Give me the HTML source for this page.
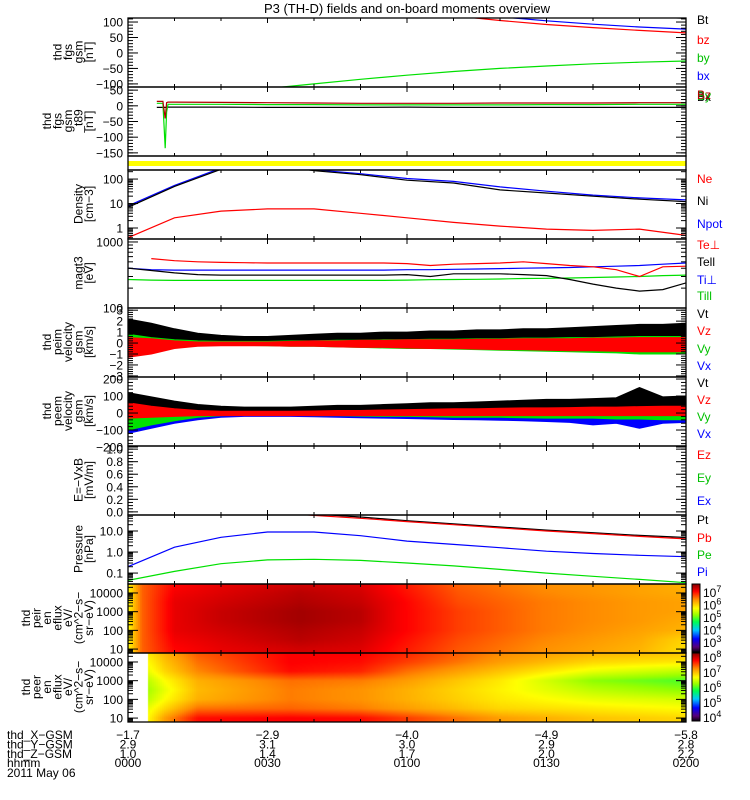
<!DOCTYPE html>
<html><head><meta charset="utf-8">
<style>
html,body{margin:0;padding:0;background:#fff;}
#wrap{position:relative;width:750px;height:800px;overflow:hidden;font-family:"Liberation Sans",sans-serif;}
canvas,svg{position:absolute;left:0;top:0;}
</style></head>
<body>
<div id="wrap">
<canvas id="cv" width="750" height="800"></canvas>
<svg id="sv" width="750" height="800" xmlns="http://www.w3.org/2000/svg"></svg>
</div>
<script>
// ---------- data ----------
const t10 = [0,10,20,30,40,50,60,70,80,90,100,110,120];
const t5 = [0,5,10,15,20,25,30,35,40,45,50,55,60,65,70,75,80,85,90,95,100,105,110,115,120];
// fgs gsm (nT)
const fgsBt = [320,290,265,240,215,195,175,160,145,133,125,118,112];
const fgsBz = [250,230,210,190,170,150,135,120,105,92,82,73,65];
const fgsBy = [-170,-150,-130,-115,-100,-85,-72,-60,-50,-42,-35,-30,-26];
const fgsBx = [260,240,220,200,180,160,145,130,117,104,93,84,77];
// fgs gsm - t89
const t89Times = [6.2,7.5,8.0,8.3,8.6,9.0,10,20,30,40,50,60,70,80,90,100,110,120];
const t89Bz = [14,14,-40,10,12,12,12,11,10,9,8,8,8,9,9,9,10,10];
const t89By = [8,8,-135,-20,5,5,5,5,4,4,3,3,3,3,4,4,5,5];
const t89Bx = [-5,-5,-5,-4,-4,-4,-4,-4,-5,-5,-5,-4,-5,-5,-5,-5,-5,-5];
// density
const densNi = [7,50,250,420,220,150,90,69,36,27,20,15,12];
const densNpot = [8,55,280,460,240,165,105,80,48,32,22,17,14];
const densNe = [0.4,2.6,4.9,6,6,4,2.6,1.7,1.2,0.9,0.8,0.9,0.5];
// temperatures (eV)
const tempTePerp = [null,560,520,500,490,485,480,480,480,480,480,480,470,440,460,470,480,500,470,440,420,380,300,420,430];
const tempTePar = [400,370,340,320,315,315,315,315,315,315,315,315,320,300,330,330,330,320,310,270,230,200,180,190,240];
const tempTiPerp = [400,380,375,375,375,375,375,375,375,375,375,375,380,380,385,390,395,400,405,410,420,430,440,460,480];
const tempTiPar = [270,265,262,262,262,262,262,262,262,262,262,262,265,268,270,272,275,280,282,285,290,295,300,310,315];
// peim velocity (envelopes)
const v1VtMax = [2.2,1.8,1.3,0.9,0.7,0.6,0.6,0.7,0.8,0.9,0.9,1.0,1.0,1.1,1.1,1.2,1.2,1.3,1.3,1.4,1.5,1.6,1.7,1.7,1.8];
const v1VtMin = [0,0.1,0.2,0.2,0.2,0.2,0.2,0.2,0.2,0.2,0.2,0.2,0.2,0.2,0.2,0.2,0.2,0.2,0.2,0.2,0.2,0.2,0.2,0.2,0.2];
const v1VxMax = [0.3,0.2,0.15,0.1,0.1,0.1,0.1,0.15,0.2,0.2,0.2,0.25,0.25,0.3,0.3,0.3,0.3,0.35,0.35,0.35,0.4,0.4,0.45,0.45,0.5];
const v1VxMin = [-0.3,-0.2,-0.15,-0.1,-0.1,-0.1,-0.1,-0.15,-0.2,-0.2,-0.2,-0.25,-0.25,-0.3,-0.3,-0.3,-0.3,-0.35,-0.35,-0.35,-0.4,-0.4,-0.4,-0.4,-0.4];
const v1VyMax = [0.8,0.5,0.3,0.2,0.15,0.15,0.15,0.2,0.2,0.25,0.25,0.3,0.3,0.35,0.35,0.4,0.4,0.45,0.45,0.5,0.5,0.55,0.6,0.6,0.6];
const v1VyMin = [-1.2,-0.6,-0.3,-0.2,-0.2,-0.2,-0.25,-0.3,-0.3,-0.35,-0.4,-0.45,-0.5,-0.5,-0.55,-0.6,-0.65,-0.7,-0.75,-0.8,-0.85,-0.9,-1.0,-1.0,-1.0];
const v1VzMax = [0.5,0.4,0.2,0.1,0.1,0.1,0.1,0.15,0.2,0.2,0.25,0.25,0.3,0.3,0.3,0.35,0.35,0.4,0.4,0.4,0.45,0.45,0.5,0.5,0.5];
const v1VzMin = [-1.3,-1.0,-0.5,-0.3,-0.25,-0.25,-0.25,-0.3,-0.3,-0.35,-0.4,-0.4,-0.45,-0.5,-0.5,-0.55,-0.6,-0.6,-0.65,-0.7,-0.7,-0.75,-0.8,-0.8,-0.8];
// peem velocity (envelopes)
const v2VtMax = [120,95,70,50,40,35,35,35,40,45,45,50,55,60,60,65,70,75,80,80,85,90,150,95,100];
const v2VtMin = [0,0,5,5,5,5,5,5,5,5,5,5,5,5,5,5,5,5,5,5,5,5,5,5,5];
const v2VxMax = [0,0,-5,-5,-5,-5,-5,-5,-5,-5,-5,-5,-5,-5,-5,-5,-5,-5,-5,-5,-5,-5,-5,-5,-5];
const v2VxMin = [-120,-90,-60,-40,-25,-20,-20,-20,-22,-25,-28,-30,-32,-35,-38,-40,-42,-45,-50,-55,-70,-60,-90,-60,-55];
const v2VyMax = [20,10,5,0,0,0,5,5,5,5,5,5,5,5,5,5,5,5,5,5,5,5,5,5,5];
const v2VyMin = [-100,-70,-45,-25,-15,-12,-12,-12,-15,-15,-18,-20,-20,-22,-25,-25,-25,-28,-30,-30,-30,-35,-35,-40,-40];
const v2VzMax = [60,40,25,15,10,10,10,10,12,15,15,18,20,22,25,25,28,30,30,32,35,35,38,40,40];
const v2VzMin = [-30,-25,-20,-15,-15,-15,-15,-15,-15,-15,-15,-15,-15,-15,-15,-15,-15,-15,-15,-15,-15,-15,-15,-15,-15];
// pressure (nPa)
const presPt = [400,320,300,180,64,46,31,22,15.5,11,8.3,6.2,4.9];
const presPb = [300,250,200,80,55,40,28,20,14,10,7.5,5.5,4.2];
const presPe = [0.045,0.12,0.28,0.42,0.45,0.4,0.3,0.22,0.15,0.1,0.07,0.05,0.035];
const presPi = [0.2,1.7,5,9,9,6,3.3,2.3,1.6,1.1,0.85,0.7,0.6];
// spectrograms: log10 energy rows, time columns, log10 eflux values
const specLogE = [1.0,1.5,2.0,2.5,3.0,3.5,4.0,4.4];
const ionTimes = [0,3,10,20,37,50,58,71,89,110,120];
const ionFlux = [
 [5.75,5.75,5.75,5.75,5.75,5.75,5.75,5.75],
 [6.64,6.64,6.64,6.64,6.64,6.64,6.64,6.64],
 [7.08,7.14,7.2,7.2,7.2,7.2,7.14,7.08],
 [7.2,7.25,7.31,7.36,7.36,7.31,7.25,7.2],
 [7.31,7.42,7.47,7.53,7.53,7.47,7.42,7.31],
 [7.25,7.31,7.36,7.42,7.42,7.36,7.31,7.25],
 [7.03,7.08,7.14,7.14,7.14,7.14,7.08,7.03],
 [6.7,6.75,6.81,6.81,6.81,6.75,6.7,6.64],
 [6.42,6.47,6.53,6.53,6.53,6.53,6.47,6.42],
 [6.2,6.25,6.31,6.36,6.36,6.36,6.31,6.31],
 [5.93,5.99,6.2,6.25,6.31,6.31,6.25,6.2]
];
const eleTimes = [4.3,8,15,35,50,60,80,100,120];
const eleFlux = [
 [6.7,6.6,6.4,6.3,6.4,6.6,6.7,6.8],
 [7.2,6.9,6.7,6.6,6.7,6.9,7.0,7.1],
 [7.8,7.4,7.1,7.05,7.1,7.3,7.4,7.5],
 [7.85,7.45,7.35,7.35,7.4,7.8,7.85,7.85],
 [7.8,7.35,7.25,7.25,7.35,7.7,7.8,7.85],
 [7.6,7.2,7.1,7.1,7.2,7.4,7.6,7.7],
 [7.2,6.9,6.8,6.75,6.8,7.0,7.2,7.3],
 [7.0,6.8,6.6,6.4,6.2,6.6,6.9,7.1],
 [6.9,6.7,6.5,6.2,6.0,6.4,6.8,7.0]
];
// ephemeris / time axis labels
const hhmm = ['0000','0030','0100','0130','0200'];
const hhmmMin = [0,30,60,90,120];
const xGsm = ['\u22121.7','\u22122.9','\u22124.0','\u22124.9','\u22125.8'];
const yGsm = ['2.9','3.1','3.0','2.9','2.8'];
const zGsm = ['1.0','1.4','1.7','2.0','2.2'];

// ---------- layout ----------
const X0=128, X1=686;
function xs(t){return X0+(X1-X0)*t/120;}
const NS='http://www.w3.org/2000/svg';
const svg=document.getElementById('sv');
function mk(tag,parent){const e=document.createElementNS(NS,tag);parent.appendChild(e);return e;}
function ys(p,v){
  if(p.log){const a=Math.log10(p.min),b=Math.log10(p.max);return p.bot-(Math.log10(v)-a)/(b-a)*(p.bot-p.top);}
  return p.bot-(v-p.min)/(p.max-p.min)*(p.bot-p.top);
}
const panels={
 fgs:{top:18,bot:87,min:-110,max:113,maj:[-100,-50,0,50,100],lab:['\u2212100','\u221250','0','50','100'],minStep:10},
 t89:{top:87,bot:156,min:-160,max:60,maj:[-150,-100,-50,0,50],lab:['\u2212150','\u2212100','\u221250','0','50'],minStep:10},
 dens:{top:170,bot:239,min:Math.pow(10,-0.45),max:Math.pow(10,2.37),log:true,maj:[1,10,100],lab:['1','10','100']},
 temp:{top:239,bot:308,min:100,max:Math.pow(10,3.045),log:true,maj:[100,1000],lab:['100','1000']},
 v1:{top:308,bot:377,min:-3.1,max:3.2,maj:[-3,-2,-1,0,1,2,3],lab:['\u22123','\u22122','\u22121','0','1','2','3'],minStep:0.2},
 v2:{top:377,bot:446,min:-194,max:212,maj:[-200,-100,0,100,200],lab:['\u2212200','\u2212100','0','100','200'],minStep:20},
 ef:{top:446,bot:515,min:-0.05,max:1.05,maj:[0,0.2,0.4,0.6,0.8,1.0],lab:['0.0','0.2','0.4','0.6','0.8','1.0'],minStep:0.05},
 pres:{top:515,bot:584,min:Math.pow(10,-1.52),max:Math.pow(10,1.76),log:true,maj:[0.1,1,10],lab:['0.1','1.0','10.0']},
 ion:{top:584,bot:653,min:Math.pow(10,0.79),max:Math.pow(10,4.48),log:true,maj:[10,100,1000,10000],lab:['10','100','1000','10000']},
 ele:{top:653,bot:722,min:Math.pow(10,0.79),max:Math.pow(10,4.48),log:true,maj:[10,100,1000,10000],lab:['10','100','1000','10000']}
};

// ---------- spectrograms (canvas) ----------
const cv=document.getElementById('cv'); const ctx=cv.getContext('2d');
const cmStops=[[0,0,0,0],[0.08,90,0,120],[0.2,0,0,255],[0.33,0,200,255],[0.45,0,255,80],[0.55,150,255,0],[0.65,255,255,0],[0.78,255,140,0],[0.9,255,0,0],[1,140,0,0]];
function cmap(f){f=Math.max(0,Math.min(1,f));for(let i=1;i<cmStops.length;i++){const a=cmStops[i-1],b=cmStops[i];if(f<=b[0]){const u=(f-a[0])/(b[0]-a[0]);return 'rgb('+Math.round(a[1]+u*(b[1]-a[1]))+','+Math.round(a[2]+u*(b[2]-a[2]))+','+Math.round(a[3]+u*(b[3]-a[3]))+')';}}return 'rgb(140,0,0)';}
function interp(times,grid,t,le){
  if(t<times[0]) return null;
  let i=0; while(i<times.length-2 && t>times[i+1]) i++;
  const u=Math.max(0,Math.min(1,(t-times[i])/(times[i+1]-times[i])));
  let ej=(le-specLogE[0])/(specLogE[1]-specLogE[0]); ej=Math.max(0,Math.min(specLogE.length-1.001,ej));
  const j=Math.floor(ej), w=ej-j;
  const a=grid[i][j]*(1-w)+grid[i][j+1]*w, b=grid[i+1][j]*(1-w)+grid[i+1][j+1]*w;
  return a*(1-u)+b*u;
}
function drawSpec(p,times,grid,lo,hi){
  for(let x=X0;x<X1;x+=2){
    const t=(x+1-X0)/(X1-X0)*120;
    for(let y=p.top;y<p.bot;y++){
      const le=Math.log10(p.min)+(p.bot-y-0.5)/(p.bot-p.top)*(Math.log10(p.max)-Math.log10(p.min));
      const v=interp(times,grid,t,le); if(v===null) continue;
      ctx.fillStyle=cmap((v-lo)/(hi-lo)); ctx.fillRect(x,y,2,1);
    }
  }
}
drawSpec(panels.ion,ionTimes,ionFlux,2.2,7.64);
drawSpec(panels.ele,eleTimes,eleFlux,3.7,8.3);
// colorbars
for(let y=584;y<652;y++){ctx.fillStyle=cmap((652-y)/68);ctx.fillRect(692,y,8,1);}
for(let y=653;y<721;y++){ctx.fillStyle=cmap((721-y)/68);ctx.fillRect(692,y,8,1);}

// ---------- svg ----------
function txt(parent,x,y,s,opt){const e=mk('text',parent);e.setAttribute('x',x);e.setAttribute('y',y);e.setAttribute('font-size',(opt&&opt.size)||12);e.setAttribute('font-family','"Liberation Sans",sans-serif');e.setAttribute('fill',(opt&&opt.fill)||'#000');if(opt&&opt.anchor)e.setAttribute('text-anchor',opt.anchor);e.textContent=s;return e;}
function ln(parent,x1,y1,x2,y2,c,w){const e=mk('line',parent);e.setAttribute('x1',x1);e.setAttribute('y1',y1);e.setAttribute('x2',x2);e.setAttribute('y2',y2);e.setAttribute('stroke',c||'#000');e.setAttribute('stroke-width',w||1);return e;}

const title=txt(svg,407,13,'P3 (TH-D) fields and on-board moments overview',{size:13,anchor:'middle'});



const defs=mk('defs',svg);
function clipFor(key,p){const c=mk('clipPath',defs);c.setAttribute('id','clip-'+key);const r=mk('rect',c);r.setAttribute('x',X0);r.setAttribute('y',p.top);r.setAttribute('width',X1-X0);r.setAttribute('height',p.bot-p.top);return 'url(#clip-'+key+')';}

function series(key,times,vals,color,name,width){
  const p=panels[key];
  const g=mk('g',svg); g.setAttribute('clip-path',clipFor(key+'-'+name,p));
  let d='',pen=false;
  for(let i=0;i<times.length;i++){const v=vals[i];if(v===null||v===undefined){pen=false;continue;}d+=(pen?'L':'M')+xs(times[i]).toFixed(1)+','+ys(p,v).toFixed(1);pen=true;}
  const e=mk('path',g);e.setAttribute('d',d);e.setAttribute('fill','none');e.setAttribute('stroke',color);e.setAttribute('stroke-width',width||1.2);
  
  
}
function band(key,times,mx,mn,color,name){
  const p=panels[key];
  const g=mk('g',svg); g.setAttribute('clip-path',clipFor(key+'-'+name,p));
  let d='';
  for(let i=0;i<times.length;i++) d+=(i?'L':'M')+xs(times[i]).toFixed(1)+','+ys(p,mx[i]).toFixed(1);
  for(let i=times.length-1;i>=0;i--) d+='L'+xs(times[i]).toFixed(1)+','+ys(p,mn[i]).toFixed(1);
  d+='Z';
  const e=mk('path',g);e.setAttribute('d',d);e.setAttribute('fill',color);e.setAttribute('stroke',color);e.setAttribute('stroke-width',1);
  
  
}

// data series
series('fgs',t10,fgsBt,'#000','fgs-bt-line');
series('fgs',t10,fgsBy,'#00e000','fgs-by-line');
series('fgs',t10,fgsBx,'#0000ff','fgs-bx-line');
series('fgs',t10,fgsBz,'#ff0000','fgs-bz-line');
series('t89',t89Times,t89Bx,'#000','t89-bx-line');
series('t89',t89Times,t89By,'#00e000','t89-by-line');
series('t89',t89Times,t89Bz,'#b00000','t89-bz-line');
const yb=mk('rect',svg);yb.setAttribute('x',X0);yb.setAttribute('y',161);yb.setAttribute('width',X1-X0);yb.setAttribute('height',5);yb.setAttribute('fill','#ffff00');


series('dens',t10,densNpot,'#0000ff','density-npot-line');
series('dens',t10,densNi,'#000','density-ni-line');
series('dens',t10,densNe,'#ff0000','density-ne-line');
series('temp',t5,tempTiPar,'#00e000','temp-ti-par-line');
series('temp',t5,tempTiPerp,'#0000ff','temp-ti-perp-line');
series('temp',t5,tempTePar,'#000','temp-te-par-line');
series('temp',t5,tempTePerp,'#ff0000','temp-te-perp-line');
band('v1',t5,v1VtMax,v1VtMin,'#000','peim-vt-band');
band('v1',t5,v1VxMax,v1VxMin,'#0000ff','peim-vx-band');
band('v1',t5,v1VyMax,v1VyMin,'#00e000','peim-vy-band');
band('v1',t5,v1VzMax,v1VzMin,'#ff0000','peim-vz-band');
band('v2',t5,v2VtMax,v2VtMin,'#000','peem-vt-band');
band('v2',t5,v2VxMax,v2VxMin,'#0000ff','peem-vx-band');
band('v2',t5,v2VyMax,v2VyMin,'#00e000','peem-vy-band');
band('v2',t5,v2VzMax,v2VzMin,'#ff0000','peem-vz-band');
series('pres',t10,presPt,'#000','pressure-pt-line');
series('pres',t10,presPb,'#ff0000','pressure-pb-line');
series('pres',t10,presPe,'#00e000','pressure-pe-line');
series('pres',t10,presPi,'#0000ff','pressure-pi-line');

// frames and ticks
function frame(key,p,name){
  const g=mk('g',svg);
  
  
  const r=mk('rect',g);r.setAttribute('x',X0);r.setAttribute('y',p.top);r.setAttribute('width',X1-X0);r.setAttribute('height',p.bot-p.top);r.setAttribute('fill','none');r.setAttribute('stroke','#000');r.setAttribute('stroke-width',1.3);
  for(let t=10;t<120;t+=10){const L=(t%30===0)?5:3;ln(g,xs(t),p.top,xs(t),p.top+L);ln(g,xs(t),p.bot,xs(t),p.bot-L);}
  if(!p.maj) return;
  const minors=[];
  if(p.log){const a=Math.floor(Math.log10(p.min)),b=Math.ceil(Math.log10(p.max));for(let d=a;d<=b;d++)for(let k=2;k<=9;k++){const v=k*Math.pow(10,d);if(v>p.min&&v<p.max)minors.push(v);}}
  else{for(let v=Math.ceil(p.min/p.minStep)*p.minStep;v<=p.max;v+=p.minStep)minors.push(v);}
  minors.forEach(v=>{const y=ys(p,v);ln(g,X0,y,X0+5,y);ln(g,X1,y,X1-5,y);});
  p.maj.forEach((v,i)=>{const y=ys(p,v);ln(g,X0,y,X0+10,y);ln(g,X1,y,X1-10,y);
    const tl=txt(g,123,y+4.5,p.lab[i],{anchor:'end'});
    
    
  });
}
frame('fgs',panels.fgs,'fgs-panel');
frame('t89',panels.t89,'t89-panel');
const sb=mk('rect',svg);sb.setAttribute('x',X0);sb.setAttribute('y',156);sb.setAttribute('width',X1-X0);sb.setAttribute('height',14);sb.setAttribute('fill','none');sb.setAttribute('stroke','#000');sb.setAttribute('stroke-width',1.3);


frame('dens',panels.dens,'density-panel');
frame('temp',panels.temp,'temperature-panel');
frame('v1',panels.v1,'peim-velocity-panel');
frame('v2',panels.v2,'peem-velocity-panel');
frame('ef',panels.ef,'efield-panel');
frame('pres',panels.pres,'pressure-panel');
frame('ion',panels.ion,'ion-spectrogram-panel');
frame('ele',panels.ele,'electron-spectrogram-panel');

// y-axis titles
const ytitles=[
 [52,['thd','fgs','gsm','[nT]'],'fgs-y-title'],
 [121,['thd','fgs','gsm','_t89','[nT]'],'t89-y-title'],
 [204,['Density','[cm\u22123]'],'density-y-title'],
 [273,['magt3','[eV]'],'temperature-y-title'],
 [342,['thd','peim','velocity','gsm','[km/s]'],'peim-y-title'],
 [411,['thd','peem','velocity','gsm','[km/s]'],'peem-y-title'],
 [480,['E=\u2212VxB','[mV/m]'],'efield-y-title'],
 [549,['Pressure','[nPa]'],'pressure-y-title'],
 [618,['thd','peir','en','eflux','eV/','(cm^2\u2212s\u2212','sr\u2212eV)'],'ion-y-title'],
 [687,['thd','peer','en','eflux','eV/','(cm^2\u2212s\u2212','sr\u2212eV)'],'electron-y-title']
];
ytitles.forEach(([cy,lines,name])=>{
  const g=mk('g',svg);
  
  
  const n=lines.length, lh=10.5, right=93;
  lines.forEach((s,i)=>{const x=right-(n-1-i)*lh;const e=txt(g,0,0,s,{size:12,anchor:'middle'});e.setAttribute('transform','translate('+x+','+cy+') rotate(-90)');});
});

// legends
const legends=[
 [24,'Bt','#000'],[44,'bz','#ff0000'],[62,'by','#00c000'],[80,'bx','#0000ff'],
 [101,'Bx','#000'],[100,'By','#00c000'],[99,'Bz','#b00000'],
 [183,'Ne','#ff0000'],[205,'Ni','#000'],[228,'Npot','#0000ff'],
 [249,'Te\u22a5','#ff0000'],[266,'Tell','#000'],[284,'Ti\u22a5','#0000ff'],[300,'Till','#00c000'],
 [318,'Vt','#000'],[335,'Vz','#ff0000'],[353,'Vy','#00c000'],[370,'Vx','#0000ff'],
 [387,'Vt','#000'],[404,'Vz','#ff0000'],[421,'Vy','#00c000'],[438,'Vx','#0000ff'],
 [459,'Ez','#ff0000'],[482,'Ey','#00c000'],[505,'Ex','#0000ff'],
 [524,'Pt','#000'],[542,'Pb','#ff0000'],[559,'Pe','#00c000'],[576,'Pi','#0000ff']
];
legends.forEach(([y,s,c])=>{const e=txt(svg,697,y,s,{fill:c,size:12});
  
  
});

// colorbar frames and labels
[[584,652],[653,721]].forEach(([a,b])=>{const r=mk('rect',svg);r.setAttribute('x',692);r.setAttribute('y',a);r.setAttribute('width',8);r.setAttribute('height',b-a);r.setAttribute('fill','none');r.setAttribute('stroke','#000');
  
  
});
const cbIonExp=['7','6','5','4','3'];
const cbEleExp=['8','7','6','5','4'];
function cbLabels(exps,y0,dy,name){exps.forEach((ex,i)=>{const e=txt(svg,703,y0+i*dy+5,'10',{size:12});const s=mk('tspan',e);s.setAttribute('dy',-5);s.setAttribute('font-size',9);s.textContent=ex;
  
  
});}
cbLabels(cbIonExp,592,12.5,'ion-colorbar-label');
cbLabels(cbEleExp,657,15,'electron-colorbar-label');

// bottom ephemeris labels
const rowNames=['thd_X\u2212GSM','thd_Y\u2212GSM','thd_Z\u2212GSM','hhmm'];
const rowVals=[xGsm,yGsm,zGsm,hhmm];
rowNames.forEach((nm,r)=>{const y=739+r*9.4;
  const e=txt(svg,7,y,nm,{size:12});
  
  
  rowVals[r].forEach((v,i)=>{const f=txt(svg,xs(hhmmMin[i]),y,v,{size:12,anchor:'middle'});
    
    
  });
});
const dt=txt(svg,7,777,'2011 May 06',{size:12});


</script>
</body></html>
